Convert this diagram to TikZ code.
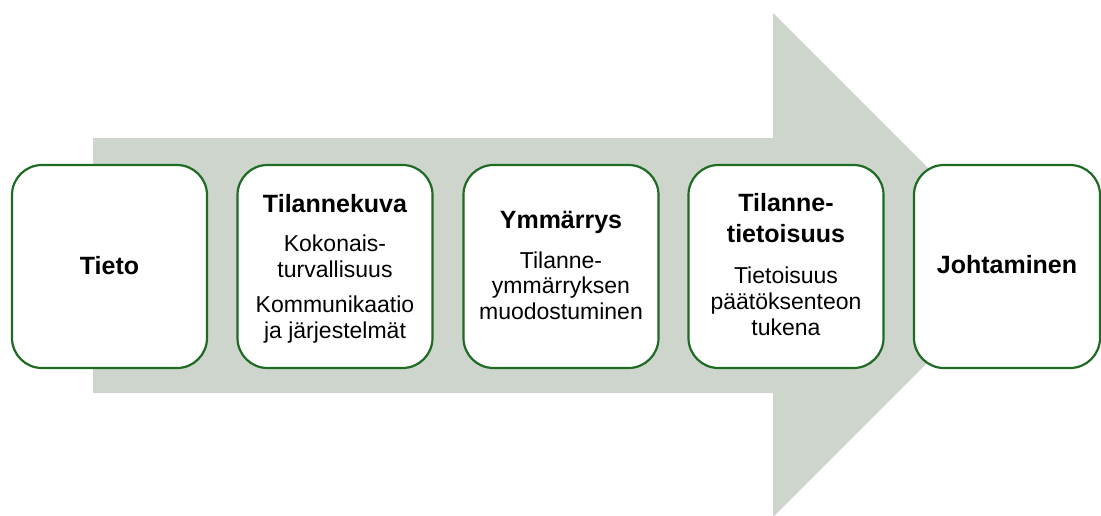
\documentclass[tikz,border=0pt]{standalone}
\usepackage{fontspec}
\setmainfont{Liberation Sans}
\definecolor{flowgrey}{HTML}{CDD5CD}
\definecolor{boxgreen}{HTML}{1E6B24}
\begin{document}
\begin{tikzpicture}[x=1pt,y=-1pt,
  stagebox/.style={draw=boxgreen, line width=2.2pt, fill=white, rounded corners=30pt,
    minimum height=203pt, inner sep=0pt},
  % multi-line texts are placed by the baseline of their last line
  headtext/.style={anchor=base, align=center, inner sep=0pt,
    font=\fontsize{25}{31}\selectfont\bfseries},
  bodytext/.style={anchor=base, align=center, inner sep=0pt,
    font=\fontsize{23}{25.5}\selectfont}]
  \useasboundingbox (0,0) rectangle (1101,515);
  \clip (0,0) rectangle (1101,515);

  % broad process arrow in the background
  \fill[flowgrey] (93,138) -- (773,138) -- (773,13) -- (1025,265)
    -- (773,517) -- (773,393) -- (93,393) -- cycle;

  % stage boxes
  \node[stagebox, minimum width=195pt] (tieto) at (109.5,266.5) {};
  \node[stagebox, minimum width=195pt] (kuva)  at (335,266.5) {};
  \node[stagebox, minimum width=195pt] (ymm)   at (561,266.5) {};
  \node[stagebox, minimum width=195pt] (tietoisuus) at (786,266.5) {};
  \node[stagebox, minimum width=186pt] (johto) at (1007,266.5) {};

  % texts
  \node[headtext] (tietoT) at (109.5,274) {Tieto};

  \node[headtext] (kuvaT) at (335,212) {Tilannekuva};
  \node[bodytext] (kuvaA) at (335,277) {Kokonais-\\turvallisuus};
  \node[bodytext] (kuvaB) at (335,338) {Kommunikaatio\\ja järjestelmät};

  \node[headtext] (ymmT) at (561,228) {Ymmärrys};
  \node[bodytext] (ymmA) at (561,319) {Tilanne-\\ymmärryksen\\muodostuminen};

  \node[headtext] (tietoisuusT) at (786,242) {Tilanne-\\tietoisuus};
  \node[bodytext, font=\fontsize{23}{26}\selectfont] (tietoisuusA) at (786,335)
    {Tietoisuus\\päätöksenteon\\tukena};

  \node[headtext] (johtoT) at (1007,273) {Johtaminen};
\end{tikzpicture}
\end{document}
